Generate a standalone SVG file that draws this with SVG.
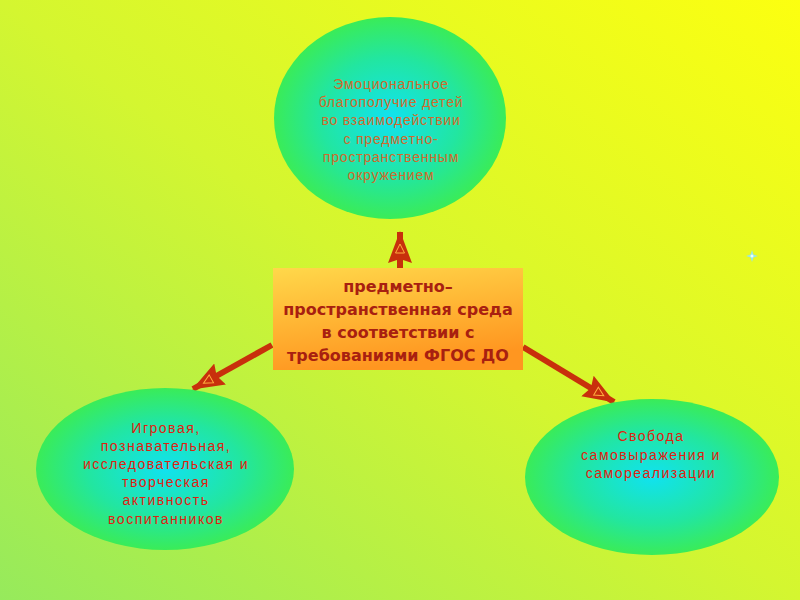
<svg xmlns="http://www.w3.org/2000/svg" width="800" height="600" viewBox="0 0 800 600">
<defs>
<linearGradient id="bg" x1="0" y1="1" x2="1" y2="0">
<stop offset="0" stop-color="#96ea5c"/>
<stop offset="0.5" stop-color="#d4f630"/>
<stop offset="1" stop-color="#fcff10"/>
</linearGradient>
<radialGradient id="ell" cx="0.5" cy="0.5" r="0.5">
<stop offset="0" stop-color="#10e2f0"/>
<stop offset="0.6" stop-color="#22e6a0"/>
<stop offset="1" stop-color="#3aec58"/>
</radialGradient>
<linearGradient id="box" x1="0" y1="0" x2="0.3" y2="1">
<stop offset="0" stop-color="#ffd84a"/>
<stop offset="1" stop-color="#ff9620"/>
</linearGradient>
<marker id="ah" viewBox="0 0 32 26" refX="31" refY="13" markerWidth="32" markerHeight="26" markerUnits="userSpaceOnUse" orient="auto">
<path d="M0,1 L32,13 L0,25 L4,13 Z" fill="#c8300c"/>
<path d="M10,8.5 L19,13 L10,17.5 Z" fill="none" stroke="#ffb040" stroke-width="1"/>
</marker>
</defs>
<style>
.ellipse{fill:url(#ell);}
.t1{font-family:"Liberation Sans",Arial,sans-serif;font-size:14px;fill:#d06a2c;text-anchor:middle;letter-spacing:0.8px;}
.t2{font-family:"Liberation Sans",Arial,sans-serif;font-size:14px;fill:#e02010;text-anchor:middle;letter-spacing:1.5px;}
.tc{font-family:"DejaVu Sans",Verdana,sans-serif;font-size:16px;font-weight:bold;fill:#a82010;text-anchor:middle;}
.conn{stroke:#c8300c;stroke-width:6;fill:none;marker-end:url(#ah);}
</style>
<rect x="0" y="0" width="800" height="600" fill="url(#bg)"/>
<g id="connectors">
<line class="conn" x1="400" y1="268" x2="400" y2="232"/>
<line class="conn" x1="272" y1="345" x2="193" y2="389"/>
<line class="conn" x1="523" y1="347" x2="614" y2="402"/>
</g>
<g id="node-top">
<ellipse class="ellipse" cx="390" cy="118" rx="116" ry="101"/>
<text class="t1" x="391" y="89">Эмоциональное</text>
<text class="t1" x="391" y="107">благополучие детей</text>
<text class="t1" x="391" y="125">во взаимодействии</text>
<text class="t1" x="391" y="144">с предметно-</text>
<text class="t1" x="391" y="162">пространственным</text>
<text class="t1" x="391" y="180">окружением</text>
</g>
<g id="node-center">
<rect x="273" y="268" width="250" height="102" fill="url(#box)"/>
<text class="tc" x="398" y="292">предметно–</text>
<text class="tc" x="398" y="315">пространственная среда</text>
<text class="tc" x="398" y="338">в соответствии с</text>
<text class="tc" x="398" y="361">требованиями ФГОС ДО</text>
</g>
<g id="node-left">
<ellipse class="ellipse" cx="165" cy="469" rx="129" ry="81"/>
<text class="t2" x="166" y="433">Игровая,</text>
<text class="t2" x="166" y="451">познавательная,</text>
<text class="t2" x="166" y="469">исследовательская и</text>
<text class="t2" x="166" y="487">творческая</text>
<text class="t2" x="166" y="505">активность</text>
<text class="t2" x="166" y="524">воспитанников</text>
</g>
<g id="node-right">
<ellipse class="ellipse" cx="652" cy="477" rx="127" ry="78"/>
<text class="t2" x="651" y="441">Свобода</text>
<text class="t2" x="651" y="460">самовыражения и</text>
<text class="t2" x="651" y="478">самореализации</text>
</g>
<g id="sparkle">
<path d="M752,250 L753.5,254.5 L758,256 L753.5,257.5 L752,262 L750.5,257.5 L746,256 L750.5,254.5 Z" fill="#9ae8e0"/>
<circle cx="752" cy="256" r="1.5" fill="#e8ffff"/>
</g>
</svg>
